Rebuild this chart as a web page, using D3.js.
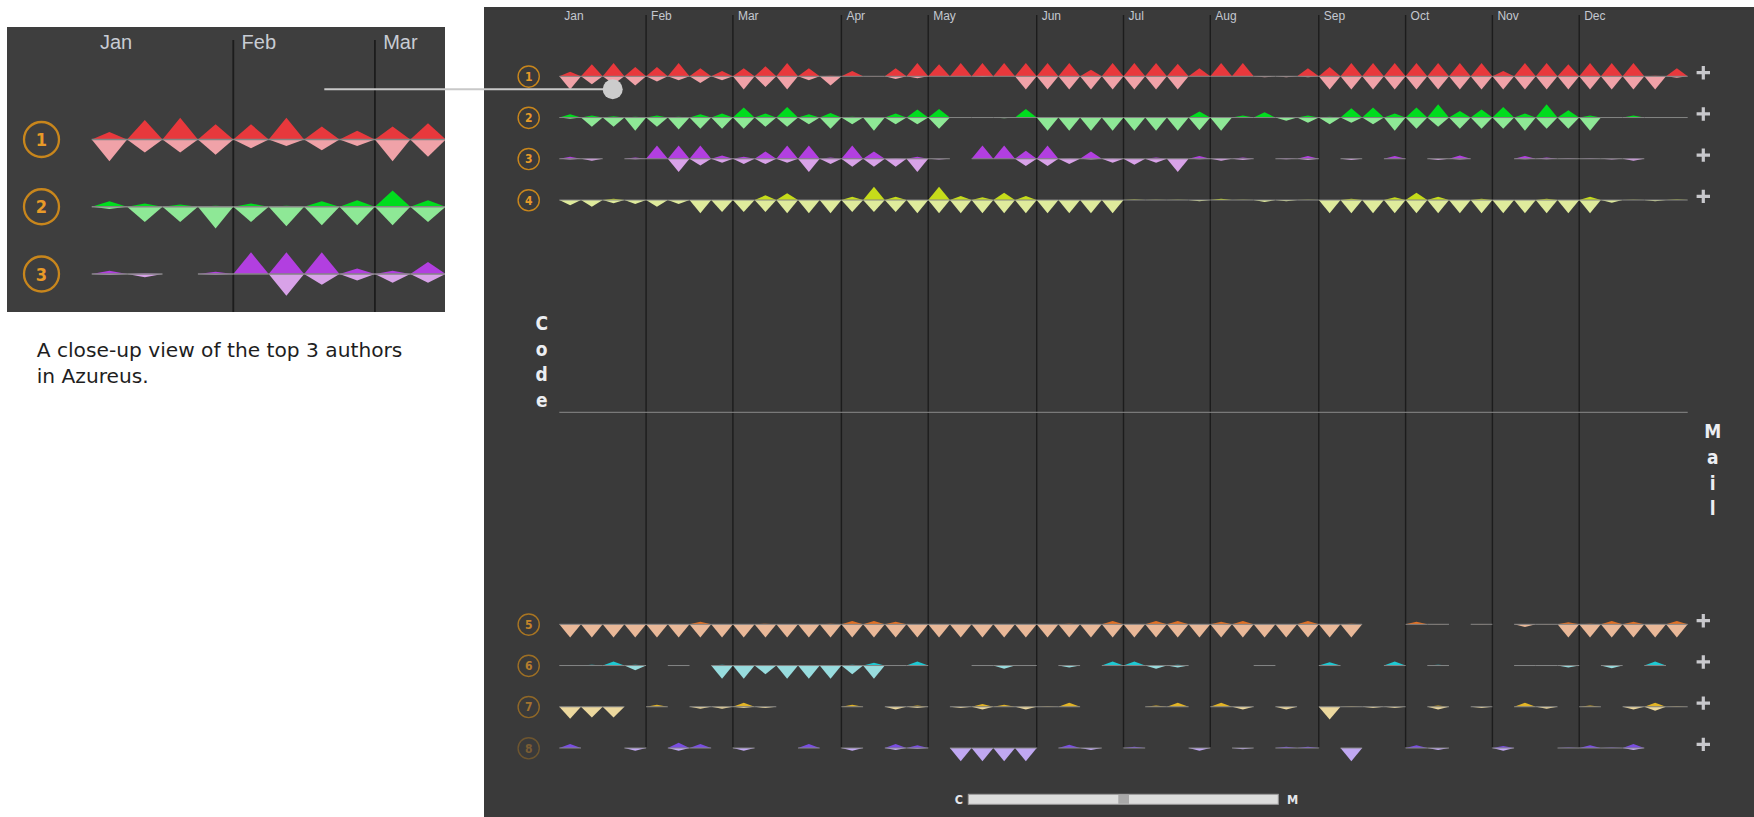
<!DOCTYPE html>
<html><head><meta charset="utf-8">
<script src="https://cdn.jsdelivr.net/npm/d3@7"></script>
<style>html,body{margin:0;padding:0;background:#ffffff;}svg{display:block;}</style>
</head><body>
<svg id="chart" width="1754" height="817"></svg>
<script>
// ---------------- data ----------------
const months = ["Jan","Feb","Mar","Apr","May","Jun","Jul","Aug","Sep","Oct","Nov","Dec"];
const monthStartWeek = [0,4,8,13,17,22,26,30,35,39,43,47];
const weekCount = 52;
const authorIds = ["1","2","3","4","5","6","7","8"];
const sectionLabels = ["Code","Mail"];
const captionLines = ["A close-up view of the top 3 authors","in Azureus."];

const row1Up   = [3.5,9,10,7,7,10,6,4,6,7.5, 10,6,0.5,4,0.3,6,10,9,10,10, 10,10,10,10,5,10,10,10,9.5,6, 10,10,0,0,6,7,10,10,10,10, 10,10,10,4,10,10,9,10,10,10, 0.5,6];
const row1Down = [10,6,6,7,4,3,5,3,10,8, 10,3,7,0,0,2,1.5,0,0,0.5, 0,10,10,10,10,10,10,10,10,0, 0,0,0.8,0.8,0.8,10,10,10,10,10, 10,10,10,10,10,10,10,10,10,10, 10,1];
const row2Up   = [2.5,1.5,1,0.5,1.5,0.5,2.5,3,7.5,3, 8,2.5,3.5,0.5,0,3,6,6.5,0.2,0.2, 0.2,6.5,0,0,0,0,0,0,0,4.5, 0,1.5,4,0.3,1.5,0.5,7,7.5,3,7.5, 10,5,6,8,3,10,5.5,1.5,0.2,1.5, 0.2,0.2];
const row2Down = [1,7,7,10,7,9,8.5,8.5,8.5,7, 7,5,8.5,5,10,5,5,8.5,0,0, 0.5,0,10,10,10,10,10,10,10,9.5, 10,0,0,2.5,4,5,4,5,10,8.5, 7,8.5,8.5,8.5,10,8.5,8.5,10,0,0, 0,0];
const row3Up   = [1.5,0.3,0,1,10,10,10,2.5,1.5,5.5, 10,10,1,10,5.5,0.5,1.5,0,0,10, 10,6,10,0.3,5.5,0.3,0,1,0,2, 0.3,1,0,0.3,2,0,0,0,2,0, 0,2.5,0,0,2,1,0.2,0.2,0,0.5, 0,0];
const row3Down = [0.5,1.5,0,0.3,0,10,5,3,4,4, 3,10,4,6,6,6,10,0.5,0,0, 0,5.5,5.5,4,0.5,3,4.5,3,10,0.3, 1.5,1,0,0.3,1,0,1,0,0,0, 1,0.5,0,0,0.3,0.3,0.2,0.2,0.5,1.5, 0,0];
const row4Up   = [0,0,1,0,0,0,0,0,0,3.5, 5,0,0,2.5,10,2.5,0,10,3,2, 5.5,3,0,0,0,0,0.3,0.2,0.2,0, 1,0.2,0,0,0.2,0,1,0,2,5.5, 2.5,0,1,0,0,1,0,2.5,0,0.2, 0,0.3];
const row4Down = [4,5,2.5,3,5,3,10,9,9,9, 10,10,10,9,9,9,10,10,10,10, 10,10,10,10,10,10,0,0,0,1, 0,0,1.5,1,0,10,10,10,10,10, 10,10,10,10,10,10,10,10,2,0, 1,0];
const row5Up   = [0,0,0,0,0,0,2,0,0,0.5, 0,0,0.5,2.5,2.5,2,0,0,0,0, 0,0,0,0.5,0,2.5,0,2.5,2.5,0, 2,2.5,0,0,2.5,0,0.5,0,0,2, 0.3,0,0.2,0,0,0.2,1.5,0.5,2.5,2, 0.3,2.5];
const row5Down = [10,10,10,10,10,10,10,10,10,10, 10,10,10,10,10,10,10,10,10,10, 10,10,10,10,10,10,10,10,10,10, 10,10,10,10,10,10,10,0,0,0, 0,0,0,0,2,0,10,10,10,10, 10,10];
const row6Up   = [0.2,0.5,3,0.5,0,0.2,0,0.5,0,0, 0,0,0,0.5,2,0.3,3,0,0,0.3, 0,0.3,0,0,0,3,3,0,0.5,0, 0,0,0.3,0,0,2.5,0,0,3,0, 0.5,0,0,0,0.3,0.2,0,0,0,0, 3,0];
const row6Down = [0,0,0,3.5,0,0,0,10,10,6.5, 10,10,10,6.5,10,0,0,0,0,0, 2.5,0,0,1.5,0,0,0,2.5,1.5,0, 0,0,0,0,0,0,0,0,0,0, 0,0,0,0,0,0,1.5,0,2,0, 0,0];
const row7Up   = [0,0,0,0,1.5,0,0,0.3,3,0, 0,0,0,1.5,0,0,1,0,0,2, 1.5,0.3,0.3,3,0,0,0,1,3,0, 3,0,0,0,0,0,0.3,0,0,0, 1,0,0,0,3,0,0,1,0,0, 3,0.3];
const row7Down = [9,8,8,0,0,0,1.5,1.5,1,1, 0,0,0,0,0,2,1,0,1,2, 0,2,0,0,0,0,0,0,0,0, 0,2,0,2,0,9.5,0,1,1,0, 2,0,1,0,0,1.5,0,0,0,2, 3,0];
const row8Up   = [3,0,0,0,0,4,3,0,0,0, 0,3,0,0,0,3,2,0,0,0, 0,0,0,2.5,0,0,1,0,0,0, 0,0,0,1,1,0,0,0,0,2, 0,0,0,1.5,0,0,0.3,2,0.3,3, 0,0];
const row8Down = [0,0,0,2,0,2,0,0,2,0, 0,0,0,2,0,1.5,0.5,0,10,10, 10,10,0,0,1.5,0,0,0,0,2, 0,1,0,0,0,0,10,0,0,0, 1.5,0,0,2,0,0,0,0,0,1.5, 0,0];

// ---------------- styles ----------------
const upColors   = ["#e8383c","#00dc1e","#b23fe0","#c6dc1a","#e27024","#1ec8d2","#e2b426","#7a4ee2"];
const downColors = ["#f0a2a8","#8ee896","#d8a2e8","#dfeb9c","#e9b898","#98dcde","#ecd89e","#c0a8f2"];
const labelOpacity = [1,1,1,1,0.78,0.7,0.6,0.36];

const rows = [
  {up: row1Up, down: row1Down}, {up: row2Up, down: row2Down},
  {up: row3Up, down: row3Down}, {up: row4Up, down: row4Down},
  {up: row5Up, down: row5Down}, {up: row6Up, down: row6Down},
  {up: row7Up, down: row7Down}, {up: row8Up, down: row8Down}
];

const svg = d3.select("#chart");
const condensed = "'DejaVu Sans Condensed','DejaVu Sans',sans-serif";

// ---------------- panels ----------------
svg.append("rect").attr("x",484).attr("y",7).attr("width",1270).attr("height",810).attr("fill","#3a3a3a");
svg.append("rect").attr("x",7).attr("y",27).attr("width",438).attr("height",285).attr("fill","#3e3e3e");

// ---------------- main scales ----------------
const x = d3.scaleLinear().domain([0, weekCount]).range([559.3, 1687.7]);
const codeY = d3.scaleLinear().domain([0,3]).range([76.3, 200]);
const mailY = d3.scaleLinear().domain([0,3]).range([624.3, 748]);
const rowY = r => r < 4 ? codeY(r) : mailY(r - 4);
const h = d3.scaleLinear().domain([0,10]).range([0,13.3]);

function drawRows(g, xs, ys, hs, rowIdx, weeks, baseStroke) {
  rowIdx.forEach(r => {
    const base = ys(r);
    const d = rows[r];
    const gr = g.append("g");
    weeks.forEach(i => {
      const x0 = xs(i), x1 = xs(i+1), xm = (x0+x1)/2;
      if (d.up[i] > 0) {
        gr.append("path").attr("d", `M${x0},${base}L${xm},${base - hs(d.up[i])}L${x1},${base}Z`)
          .attr("fill", upColors[r]);
      }
      if (d.down[i] > 0) {
        gr.append("path").attr("d", `M${x0},${base}L${xm},${base + hs(d.down[i])}L${x1},${base}Z`)
          .attr("fill", downColors[r]);
      }
    });
    weeks.forEach(i => {
      if (d.up[i] > 0 || d.down[i] > 0) {
        gr.append("line").attr("x1", xs(i)).attr("x2", xs(i+1)).attr("y1", base).attr("y2", base)
          .attr("stroke", "#858585").attr("stroke-width", baseStroke);
      }
    });
  });
}

// month lines (main)
const main = svg.append("g");
main.selectAll("line.month").data(monthStartWeek.slice(1)).join("line")
  .attr("x1", d => x(d)).attr("x2", d => x(d)).attr("y1", 15).attr("y2", 747)
  .attr("stroke", "#1c1c1c").attr("stroke-width", 1.4);
main.selectAll("text.month").data(months).join("text")
  .attr("x", (d,i) => x(monthStartWeek[i]) + 5).attr("y", 20)
  .attr("font-family", "'Liberation Sans',Arial,sans-serif").attr("font-size", 12)
  .attr("fill", "#c4c8d0").text(d => d);

// separator between Code and Mail
main.append("line").attr("x1", x(0)).attr("x2", x(weekCount)).attr("y1", 412.3).attr("y2", 412.3)
  .attr("stroke", "#8a8a8a").attr("stroke-width", 1);

const weeks = d3.range(weekCount);
drawRows(main, x, rowY, h, d3.range(8), weeks, 1);

// author circles and plus buttons
authorIds.forEach((id, r) => {
  const g = main.append("g").attr("opacity", labelOpacity[r]);
  g.append("circle").attr("cx", 528.7).attr("cy", rowY(r) + 0.3).attr("r", 10.6)
    .attr("fill", "none").attr("stroke", "#c8861c").attr("stroke-width", 1.4);
  g.append("text").attr("x", 528.7).attr("y", rowY(r) + 4.6).attr("text-anchor", "middle")
    .attr("font-family", condensed).attr("font-weight", "bold").attr("font-size", 12)
    .attr("fill", "#e89a28").text(id);
  const py = rowY(r) - 3.6, px = 1703.3;
  main.append("path").attr("d", `M${px-6.7},${py}H${px+6.7}M${px},${py-6.7}V${py+6.7}`)
    .attr("stroke", "#c8c8cc").attr("stroke-width", 3.2);
});

// vertical section labels
function vertLabel(text, cx, y0, step) {
  text.split("").forEach((ch, i) => {
    main.append("text").attr("x", cx).attr("y", y0 + i*step).attr("text-anchor", "middle")
      .attr("font-family", condensed).attr("font-weight", "bold").attr("font-size", 19)
      .attr("fill", "#eceef2").text(ch);
  });
}
vertLabel(sectionLabels[0], 541.7, 330, 25.6);
vertLabel(sectionLabels[1], 1712.7, 438.3, 25.6);

// slider
main.append("text").attr("x", 959).attr("y", 803.8).attr("text-anchor", "middle")
  .attr("font-family", condensed).attr("font-weight", "bold").attr("font-size", 12.5).attr("fill", "#e4e6ea").text("C");
main.append("rect").attr("x", 968.3).attr("y", 794.3).attr("width", 310).attr("height", 10)
  .attr("fill", "#dcdddc").attr("stroke", "#9c9c9c").attr("stroke-width", 1);
main.append("rect").attr("x", 1118.3).attr("y", 794.8).attr("width", 10.7).attr("height", 9)
  .attr("fill", "#a9a9a9");
main.append("text").attr("x", 1292.5).attr("y", 803.8).attr("text-anchor", "middle")
  .attr("font-family", condensed).attr("font-weight", "bold").attr("font-size", 12.5).attr("fill", "#e4e6ea").text("M");

// ---------------- inset (close-up) ----------------
svg.append("defs").append("clipPath").attr("id", "insetClip")
  .append("rect").attr("x",7).attr("y",27).attr("width",438).attr("height",285);
const inset = svg.append("g").attr("clip-path", "url(#insetClip)");
const xi = d3.scaleLinear().domain([0,10]).range([91.7, 445.7]);
const yi = d3.scaleLinear().domain([0,2]).range([139.5, 274]);
const hi = d3.scaleLinear().domain([0,10]).range([0, 21.7]);
const insetMonths = monthStartWeek.filter(w => w < 10);
inset.selectAll("line.m").data(insetMonths.slice(1)).join("line")
  .attr("x1", d => xi(d)).attr("x2", d => xi(d)).attr("y1", 40).attr("y2", 312)
  .attr("stroke", "#1c1c1c").attr("stroke-width", 1.8);
inset.selectAll("text.m").data(insetMonths).join("text")
  .attr("x", d => xi(d) + 8.3).attr("y", 49.3)
  .attr("font-family", "'Liberation Sans',Arial,sans-serif").attr("font-size", 20)
  .attr("fill", "#c8ccd4").text((d,i) => months[i]);
drawRows(inset, xi, yi, hi, [0,1,2], d3.range(10), 1.5);
[0,1,2].forEach(r => {
  inset.append("circle").attr("cx", 41.5).attr("cy", yi(r)).attr("r", 17.5)
    .attr("fill", "none").attr("stroke", "#c8861c").attr("stroke-width", 2.3);
  inset.append("text").attr("x", 41.5).attr("y", yi(r) + 6.6).attr("text-anchor", "middle")
    .attr("font-family", condensed).attr("font-weight", "bold").attr("font-size", 18)
    .attr("fill", "#e89a28").text(authorIds[r]);
});

// connector from inset to main chart
svg.append("line").attr("x1", 324.3).attr("x2", 604).attr("y1", 89.3).attr("y2", 89.3)
  .attr("stroke", "#c8c8c8").attr("stroke-width", 2);
svg.append("circle").attr("cx", 612.7).attr("cy", 89.3).attr("r", 10).attr("fill", "#cccccc");

// caption
svg.append("text").attr("font-family", "'DejaVu Sans',Verdana,sans-serif").attr("font-size", 20.2)
  .attr("fill", "#1e1e1e")
  .selectAll("tspan").data(captionLines).join("tspan")
  .attr("x", 36.7).attr("y", (d,i) => 356.7 + i*26.7).text(d => d);
</script>
</body></html>
